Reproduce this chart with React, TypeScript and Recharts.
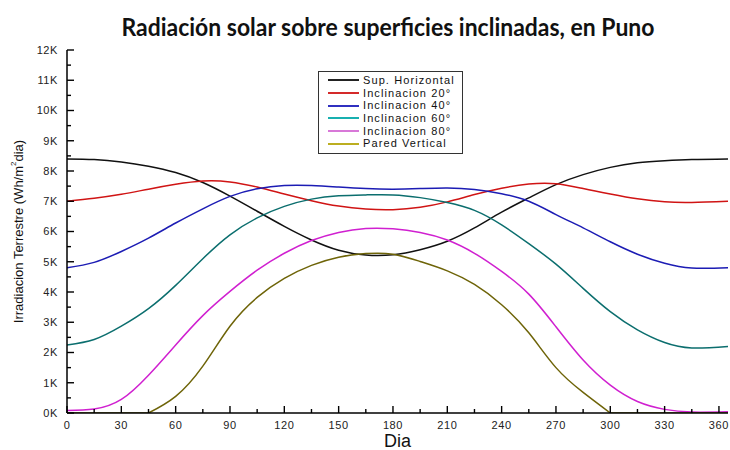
import { LineChart, Line, XAxis, YAxis, Legend, Label } from 'recharts';

// Dia del año
const dias = [0, 15, 30, 45, 60, 75, 90, 105, 120, 135, 150, 165, 180, 195, 210, 225, 240, 255, 270, 285, 300, 315, 330, 345, 365];

// Irradiación diaria (Wh/m2 dia) por inclinación
const supHorizontal = [8400, 8380, 8300, 8160, 7950, 7620, 7170, 6670, 6170, 5720, 5380, 5220, 5230, 5400, 5680, 6120, 6640, 7110, 7550, 7880, 8120, 8270, 8340, 8380, 8400];
const inclinacion20 = [7000, 7100, 7230, 7400, 7560, 7670, 7640, 7470, 7240, 7020, 6840, 6740, 6720, 6800, 6980, 7220, 7430, 7570, 7580, 7420, 7240, 7080, 6980, 6960, 7000];
const inclinacion40 = [4800, 4980, 5340, 5780, 6280, 6750, 7160, 7410, 7520, 7520, 7470, 7420, 7400, 7420, 7440, 7390, 7250, 7000, 6560, 6120, 5660, 5250, 4950, 4790, 4800];
const inclinacion60 = [2250, 2430, 2870, 3450, 4220, 5100, 5890, 6450, 6830, 7070, 7180, 7210, 7210, 7120, 6960, 6700, 6220, 5600, 4920, 4120, 3350, 2750, 2330, 2150, 2200];
const inclinacion80 = [80, 130, 450, 1250, 2250, 3220, 4020, 4720, 5280, 5700, 5970, 6100, 6090, 5970, 5720, 5280, 4680, 3930, 2850, 1750, 920, 380, 120, 30, 40];
const paredVertical = [0, 0, 0, 0, 550, 1550, 2870, 3820, 4450, 4880, 5150, 5270, 5250, 5010, 4700, 4250, 3580, 2650, 1500, 680, 0, 0, 0, 0, 0];

const xTicks = [0, 15, 30, 45, 60, 75, 90, 105, 120, 135, 150, 165, 180, 195, 210, 225, 240, 255, 270, 285, 300, 315, 330, 345, 360];
const yTicks = Array.from({ length: 25 }, (_, i) => i * 500);

const series = [
  { key: 'h', name: 'Sup. Horizontal', color: '#111111', legend: '#222222', values: supHorizontal },
  { key: 'i20', name: 'Inclinacion 20°', color: '#d01414', legend: '#d42a2a', values: inclinacion20 },
  { key: 'i40', name: 'Inclinacion 40°', color: '#1c1cb4', legend: '#3030c0', values: inclinacion40 },
  { key: 'i60', name: 'Inclinacion 60°', color: '#0b6e6e', legend: '#18b0b0', values: inclinacion60 },
  { key: 'i80', name: 'Inclinacion 80°', color: '#d020d0', legend: '#d878d8', values: inclinacion80 },
  { key: 'pv', name: 'Pared Vertical', color: '#6e6408', legend: '#bcae20', values: paredVertical },
];

// la pared vertical se parte en el tramo curvo y el tramo en cero
const firstLit = paredVertical.findIndex(v => v > 0) - 1;
const lastLit = paredVertical.length - paredVertical.slice().reverse().findIndex(v => v > 0);

const data = dias.map((dia, i) => {
  const row: Record<string, number | null> = { dia };
  series.forEach(s => { row[s.key] = s.values[i]; });
  row.pv = i >= firstLit && i <= lastLit ? paredVertical[i] : null;
  row.pvZero = i <= firstLit || i >= lastLit ? paredVertical[i] : null;
  return row;
});

const FONT = '"Liberation Sans", Arial, sans-serif';

// ticks dibujados hacia adentro del marco, con etiqueta solo en los mayores
function FrameTick(props: any) {
  const { x, y, payload, side, gap } = props;
  const v = payload.value as number;
  const vertical = side === 'left' || side === 'right';
  const major = vertical ? v % 1000 === 0 : v % 30 === 0;
  const len = major ? 7 : 4;
  const lineProps = { stroke: '#000', strokeWidth: 1.4 };
  const textProps = { fontFamily: FONT, fontSize: 11, fill: '#222', letterSpacing: 0.6 };

  if (side === 'left') {
    const ax = x + gap;
    return (
      <g>
        <line x1={ax} x2={ax + len} y1={y} y2={y} {...lineProps} />
        {major && <text x={x} y={y} dy="0.36em" textAnchor="end" {...textProps}>{v / 1000}K</text>}
      </g>
    );
  }
  if (side === 'right') {
    const ax = x - gap;
    return <line x1={ax} x2={ax - len} y1={y} y2={y} {...lineProps} />;
  }
  if (side === 'top') {
    const ay = y + gap;
    return <line x1={x} x2={x} y1={ay} y2={ay + len} {...lineProps} />;
  }
  const ay = y - gap;
  return (
    <g>
      <line x1={x} x2={x} y1={ay} y2={ay - len} {...lineProps} />
      {major && <text x={x} y={y} dy="0.71em" textAnchor="middle" {...textProps}>{v}</text>}
    </g>
  );
}

function YTitle(props: any) {
  const { viewBox } = props;
  const cy = viewBox.y + viewBox.height / 2;
  const cx = 18;
  return (
    <text
      x={cx}
      y={cy}
      transform={`rotate(-90 ${cx} ${cy})`}
      textAnchor="middle"
      dominantBaseline="central"
      fontFamily='"Liberation Sans Narrow", "Liberation Sans", Arial, sans-serif'
      fontSize={13}
      fill="#111"
    >
      Irradiacion Terrestre (Wh/m<tspan dy={-5} fontSize={8}>2</tspan><tspan dy={5}>dia)</tspan>
    </text>
  );
}

function LegendBox() {
  return (
    <div
      style={{
        border: '1px solid #333',
        background: '#fff',
        padding: '2px 4px 3px 9px',
        width: 130,
        fontFamily: FONT,
        fontSize: 11,
        letterSpacing: 1.1,
        color: '#111',
      }}
    >
      {series.map(s => (
        <div key={s.key} style={{ display: 'flex', alignItems: 'center', height: 12.7, lineHeight: '12.7px' }}>
          <span style={{ display: 'inline-block', width: 31, height: 2, background: s.legend, marginRight: 4 }} />
          <span style={{ whiteSpace: 'nowrap' }}>{s.name}</span>
        </div>
      ))}
    </div>
  );
}

export default function App() {
  return (
    <div style={{ position: 'absolute', left: 0, top: 0, width: 730, height: 450, background: '#fff' }}>
      <svg width={730} height={50} style={{ position: 'absolute', left: 0, top: 0 }}>
        <text
          x={388}
          y={36}
          textAnchor="middle"
          fontFamily='Lato, "Open Sans", sans-serif'
          fontWeight={700}
          fontSize={24}
          textLength={533}
          lengthAdjust="spacingAndGlyphs"
          fill="#111"
        >
          Radiación solar sobre superficies inclinadas, en Puno
        </text>
      </svg>
      <LineChart width={730} height={450} data={data} margin={{ top: 50, right: 2, bottom: 0, left: 0 }}>
        <XAxis
          dataKey="dia"
          type="number"
          domain={[0, 365]}
          allowDataOverflow
          ticks={xTicks}
          interval={0}
          height={37}
          tickSize={0}
          tickMargin={8}
          axisLine={{ stroke: '#000', strokeWidth: 1.5 }}
          tick={(p: any) => <FrameTick {...p} side="bottom" gap={8} />}
        >
          <Label value="Dia" position="insideBottom" offset={3} style={{ fontFamily: FONT, fontSize: 18, fill: '#111' }} />
        </XAxis>
        <XAxis
          xAxisId="top"
          orientation="top"
          type="number"
          domain={[0, 365]}
          allowDataOverflow
          ticks={xTicks}
          interval={0}
          height={0}
          tickSize={0}
          tickMargin={0}
          axisLine={{ stroke: '#000', strokeWidth: 1.5 }}
          tick={(p: any) => <FrameTick {...p} side="top" gap={0} />}
        />
        <YAxis
          type="number"
          domain={[0, 12000]}
          allowDataOverflow
          ticks={yTicks}
          interval={0}
          width={67}
          tickSize={0}
          tickMargin={9}
          axisLine={{ stroke: '#000', strokeWidth: 1.5 }}
          tick={(p: any) => <FrameTick {...p} side="left" gap={9} />}
        >
          <Label content={<YTitle />} />
        </YAxis>
        <YAxis
          yAxisId="right"
          orientation="right"
          type="number"
          domain={[0, 12000]}
          allowDataOverflow
          ticks={yTicks}
          interval={0}
          width={0}
          tickSize={0}
          tickMargin={0}
          axisLine={{ stroke: '#000', strokeWidth: 1.5 }}
          tick={(p: any) => <FrameTick {...p} side="right" gap={0} />}
        />
        <Legend
          layout="vertical"
          align="center"
          verticalAlign="middle"
          content={<LegendBox />}
          wrapperStyle={{ left: 318, top: 71, width: 'auto' }}
        />
        {series.map(s => (
          <Line
            key={s.key}
            dataKey={s.key}
            name={s.name}
            type="natural"
            stroke={s.color}
            strokeWidth={1.5}
            dot={false}
            activeDot={false}
            isAnimationActive={false}
          />
        ))}
        <Line
          dataKey="pvZero"
          name="Pared Vertical"
          legendType="none"
          type="linear"
          stroke="#6e6408"
          strokeWidth={1.5}
          dot={false}
          activeDot={false}
          isAnimationActive={false}
        />
      </LineChart>
    </div>
  );
}
